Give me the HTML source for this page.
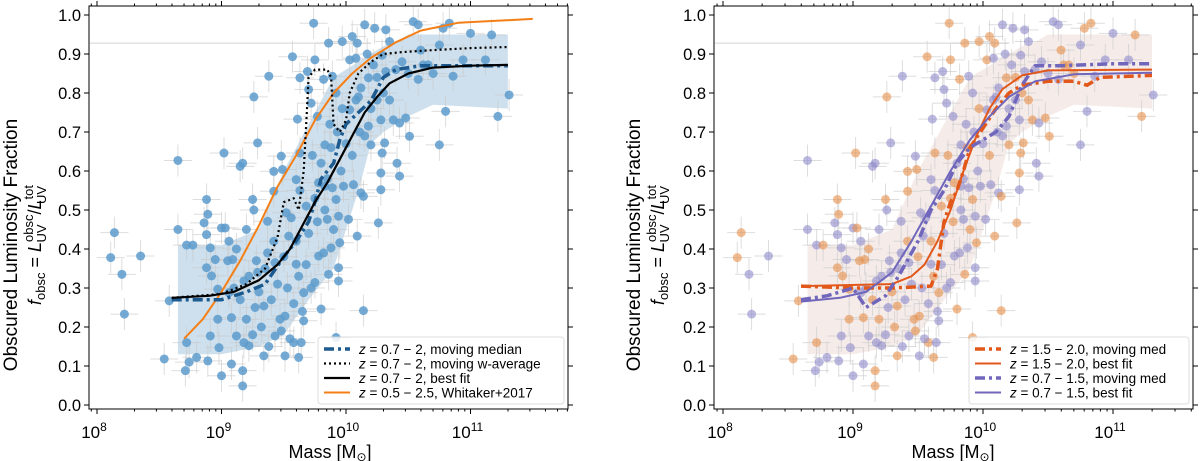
<!DOCTYPE html>
<html><head><meta charset="utf-8"><style>
body{margin:0;background:#fff;}
svg{display:block;font-family:"Liberation Sans","DejaVu Sans",sans-serif;}
</style></head><body>
<svg id="chart" width="1200" height="461" viewBox="0 0 1200 461" xmlns="http://www.w3.org/2000/svg"></svg>
<script>
// ---- data ----
const ptMass=[8.11,8.14,8.2,8.22,8.35,8.54,8.58,8.65,8.65,8.72,8.77,8.72,8.74,8.71,8.8,8.88,8.89,8.86,8.88,8.91,8.88,8.92,8.89,8.91,8.95,8.97,8.97,8.98,9.0,9.0,9.03,9.02,9.06,9.06,9.08,9.08,9.09,9.12,9.15,9.17,9.17,9.17,9.18,9.2,9.22,9.25,9.26,9.26,9.29,9.29,9.34,9.34,9.37,9.37,9.38,9.42,9.42,9.43,9.43,9.48,9.49,9.51,9.51,9.52,9.54,9.57,9.58,9.6,9.6,9.61,9.62,9.63,9.63,9.64,9.66,9.66,9.68,9.69,9.7,9.72,9.74,9.75,9.75,9.77,9.78,9.8,9.82,9.83,9.83,9.85,9.86,9.86,9.88,9.89,9.89,9.92,9.92,9.94,9.94,9.94,9.95,9.97,9.98,10.02,10.03,10.03,10.05,10.06,10.08,10.08,10.09,10.09,10.11,10.12,10.12,10.14,10.14,10.15,10.17,10.18,10.18,10.2,10.22,10.23,10.25,10.26,10.28,10.28,10.28,10.29,10.29,10.31,10.32,10.32,10.35,10.35,10.38,10.41,10.43,10.43,10.48,10.51,10.54,10.58,10.58,10.62,10.66,10.75,10.75,10.8,10.78,10.83,10.86,11.0,11.12,11.17,11.22,11.31,10.94,
9.1,9.15,9.2,9.22,9.25,9.27,9.3,9.32,9.35,9.4,9.45,9.47,9.5,9.53,9.55,9.58,9.6,9.62,9.65,9.7,9.72,9.75,9.77,9.8,9.82,9.85,9.88,9.9,9.93,9.96,10.0,9.05,9.12,9.18,9.28,9.38,9.42,9.48,9.56,9.63,9.68,9.73,9.78,9.83,9.87,9.92,9.97,10.05,10.1,10.15,10.2,10.25,10.3,10.4,10.45,10.5,10.6,10.7];
const ptFrac=[.378,.442,.335,.233,.382,.118,.267,.627,.45,.41,.41,.16,.11,.088,.122,.527,.489,.467,.437,.403,.352,.331,.113,.177,.373,.297,.22,.147,.075,.454,.454,.646,.42,.288,.105,.224,.373,.177,.612,.62,.088,.049,.318,.45,.152,.527,.79,.5,.672,.34,.126,.254,.471,.39,.843,.548,.599,.365,.177,.638,.604,.228,.126,.493,.433,.893,.16,.361,.578,.733,.122,.646,.839,.16,.216,.288,.51,.855,.809,.774,.979,.885,.314,.74,.382,.246,.835,.561,.667,.476,.928,.335,.403,.843,.557,.527,.173,.352,.484,.318,.416,.932,.561,.476,.757,.885,.945,.565,.889,.782,.928,.433,.7,.544,.813,.242,.535,.975,.9,.715,.839,.667,.872,.966,.782,.467,.595,.552,.731,.897,.646,.672,.855,.962,.932,.782,.731,.62,.587,.723,.736,.689,.983,.975,.835,.872,.872,.667,.923,.753,.966,.979,.843,.953,.885,.949,.74,.795,.885,
.3,.27,.22,.33,.18,.25,.29,.2,.35,.27,.31,.22,.38,.3,.17,.26,.42,.33,.24,.44,.3,.53,.47,.62,.39,.58,.66,.45,.7,.6,.67,.37,.4,.16,.37,.15,.42,.19,.48,.55,.36,.64,.57,.5,.72,.8,.76,.64,.79,.69,.76,.84,.8,.86,.88,.85,.91,.85];
// left panel lines
const fitM=[8.6,8.9,9.1,9.3,9.45,9.55,9.65,9.75,9.85,9.95,10.05,10.15,10.25,10.35,10.5,10.7,11.0,11.3];
const fitF=[.275,.28,.29,.32,.36,.40,.46,.52,.57,.63,.69,.75,.79,.825,.85,.865,.87,.872];
const whitM=[8.7,8.85,9.0,9.15,9.3,9.45,9.6,9.75,9.9,10.05,10.2,10.4,10.6,10.9,11.5];
const whitF=[.17,.22,.29,.37,.46,.56,.64,.73,.8,.85,.89,.93,.96,.98,.99];
const wavgM=[8.6,9.0,9.2,9.35,9.45,9.5,9.58,9.62,9.66,9.68,9.7,9.75,9.85,9.88,9.9,9.95,10.0,10.03,10.1,10.2,10.3,10.45,10.7,11.0,11.3];
const wavgF=[.275,.285,.31,.35,.43,.52,.53,.5,.6,.72,.84,.86,.86,.84,.72,.7,.73,.8,.85,.88,.9,.905,.91,.915,.918];
const medM=[8.6,9.0,9.2,9.35,9.5,9.6,9.7,9.75,9.8,9.9,9.95,10.0,10.1,10.2,10.3,10.4,10.6,11.0,11.3];
const medF=[.27,.27,.29,.31,.38,.42,.47,.52,.58,.62,.68,.72,.75,.78,.84,.86,.87,.87,.87];
const bandM=[8.65,9.0,9.3,9.5,9.7,9.9,10.1,10.2,10.3,10.4,10.5,10.7,11.3];
const bandHi=[.41,.41,.45,.6,.72,.84,.88,.9,.92,.93,.95,.95,.95];
const bandLo=[.13,.13,.15,.18,.27,.35,.55,.67,.7,.72,.74,.77,.76];
// right panel lines
const oFitM=[8.6,9.3,9.45,9.55,9.65,9.75,9.85,9.95,10.05,10.15,10.3,10.5,11.3];
const oFitF=[.305,.31,.33,.36,.42,.5,.6,.69,.76,.81,.845,.858,.86];
const pFitM=[8.6,8.9,9.1,9.3,9.45,9.6,9.75,9.9,10.05,10.2,10.4,10.7,11.3];
const pFitF=[.265,.275,.29,.34,.42,.51,.6,.68,.74,.79,.83,.848,.852];
const oMedM=[8.6,9.0,9.3,9.6,9.65,9.7,9.75,9.8,9.85,9.9,10.0,10.1,10.2,10.3,10.5,10.7,10.8,10.9,11.3];
const oMedF=[.305,.3,.3,.305,.35,.47,.52,.55,.6,.66,.71,.76,.8,.82,.83,.83,.82,.84,.845];
const pMedM=[8.6,8.8,9.0,9.1,9.25,9.35,9.5,9.6,9.7,9.8,9.9,10.0,10.1,10.2,10.3,10.4,10.6,11.0,11.3];
const pMedF=[.27,.28,.3,.25,.28,.33,.42,.5,.55,.62,.66,.68,.7,.74,.82,.87,.87,.875,.875];
const yTicks=[0,.1,.2,.3,.4,.5,.6,.7,.8,.9,1.0];
const yTickLabels=["0.0","0.1","0.2","0.3","0.4","0.5","0.6","0.7","0.8","0.9","1.0"];
const xDecades=[8,9,10,11];

// ---- drawing ----
const NS="http://www.w3.org/2000/svg";
const svg=document.getElementById('chart');
function mk(tag,attrs,parent){const e=document.createElementNS(NS,tag);for(const k in attrs)e.setAttribute(k,attrs[k]);(parent||svg).appendChild(e);return e;}
const Y0=405,YS=390;
function py(f){return Y0-YS*f;}

function panel(x0,dec,L,R,name){
  const g=mk('g',{});
  
  
  const px=l=>x0+(l-8)*dec;
  return {g,px,L,R};
}
function linePath(P,ms,fs){return ms.map((m,i)=>(i?'L':'M')+P.px(m).toFixed(1)+','+py(fs[i]).toFixed(1)).join('');}
function band(P,ms,hi,lo,color,op,name){
  let d=ms.map((m,i)=>(i?'L':'M')+P.px(m)+','+py(hi[i])).join('');
  for(let i=ms.length-1;i>=0;i--)d+='L'+P.px(ms[i])+','+py(lo[i]);
  const e=mk('path',{d:d+'Z',fill:color,opacity:op},P.g);
  
  
}
function series(P,ms,fs,color,w,dash,name){
  const e=mk('path',{d:linePath(P,ms,fs),fill:'none',stroke:color,'stroke-width':w,'stroke-dasharray':dash||'none','stroke-linejoin':'round'},P.g);
  
  
}
function points(P,colorFn,op,name){
  const gg=mk('g',{},P.g);
  
  
  mk('line',{x1:P.L+1,x2:P.px(10.2),y1:py(.928),y2:py(.928),stroke:'#d4d4d4','stroke-width':1},gg);
  for(let i=0;i<ptMass.length;i++){
    const x=P.px(ptMass[i]),y=py(ptFrac[i]);
    mk('line',{x1:x-14,x2:x+14,y1:y,y2:y,stroke:'#c8c8c8','stroke-width':1,opacity:.6},gg);
    mk('line',{x1:x,x2:x,y1:y-16,y2:y+16,stroke:'#c8c8c8','stroke-width':1,opacity:.6},gg);
  }
  for(let i=0;i<ptMass.length;i++){
    const c=mk('circle',{cx:P.px(ptMass[i]),cy:py(ptFrac[i]),r:4.5,fill:colorFn(i),opacity:op},gg);
    
    
  }
}
function axes(P,xlabelX,t1x,t2x){
  const T=6,B=409;
  const f=mk('rect',{x:P.L,y:T,width:P.R-P.L,height:B-T,fill:'none',stroke:'#000','stroke-width':1},P.g);
  
  
  for(let d=7;d<=11;d++){
    for(let k=1;k<10;k++){
      const x=P.px(d+Math.log10(k));
      if(x<P.L||x>P.R)continue;
      const len=k===1?5:2.5;
      mk('line',{x1:x,x2:x,y1:B,y2:B+len,stroke:'#000','stroke-width':1},P.g);
      mk('line',{x1:x,x2:x,y1:T,y2:T-len,stroke:'#000','stroke-width':1},P.g);
    }
  }
  xDecades.forEach(d=>{
    const t=mk('text',{x:P.px(d)-3,y:438,'font-size':17,'text-anchor':'middle'},P.g);
    
    
    t.innerHTML='10<tspan dy="-7" font-size="12">'+d+'</tspan>';
  });
  yTicks.forEach((v,i)=>{
    const y=py(v);
    mk('line',{x1:P.L-5,x2:P.L,y1:y,y2:y,stroke:'#000'},P.g);
    mk('line',{x1:P.R,x2:P.R+5,y1:y,y2:y,stroke:'#000'},P.g);
    const t=mk('text',{x:P.L-8,y:y+6,'font-size':16.5,'text-anchor':'end'},P.g);
    
    
    t.textContent=yTickLabels[i];
  });
  const xl=mk('text',{x:xlabelX,y:458,'font-size':18,'text-anchor':'middle'},P.g);
  
  
  xl.innerHTML='Mass [M<tspan font-size="12" dy="3">⊙</tspan><tspan dy="-3">]</tspan>';
  const cy=245;
  const yl=mk('text',{x:t1x,y:cy,'font-size':19,'text-anchor':'middle',transform:`rotate(-90 ${t1x} ${cy})`},P.g);
  
  
  yl.textContent='Obscured Luminosity Fraction';
  const y2=mk('text',{x:t2x,y:cy,'font-size':18,'text-anchor':'middle',transform:`rotate(-90 ${t2x} ${cy})`},P.g);
  
  
  y2.innerHTML='<tspan font-style="italic">f</tspan><tspan font-size="13" dy="4">obsc</tspan><tspan dy="-4"> = </tspan><tspan font-style="italic">L</tspan><tspan font-size="13" dy="-8">obsc</tspan><tspan font-size="13" dx="-28" dy="13">UV</tspan><tspan dx="10" dy="-5">/</tspan><tspan font-style="italic">L</tspan><tspan font-size="13" dy="-8">tot</tspan><tspan font-size="13" dx="-19" dy="13">UV</tspan>';
}
function legend(P,x,y,w,entries,name){
  const g=mk('g',{},P.g);
  
  
  mk('rect',{x,y,width:w,height:67,rx:3,fill:'#fff',opacity:.85,stroke:'#d8d8d8'},g);
  entries.forEach((e,i)=>{
    const yy=y+12+i*14.5;
    const ge=mk('g',{},g);
    
    
    mk('line',{x1:x+6,x2:x+32,y1:yy,y2:yy,stroke:e.c,'stroke-width':e.w,'stroke-dasharray':e.d||'none'},ge);
    const t=mk('text',{x:x+41,y:yy+5,'font-size':13.5},ge);
    t.innerHTML='<tspan font-style="italic">z</tspan>'+e.t;
  });
}

// Left panel
const A=panel(97,124.5,89,568,'left-panel');
band(A,bandM,bandHi,bandLo,'#a6c6de',.55,'band-moving-median');
points(A,()=>'#5c9bcc',.85,'scatter-points');
series(A,whitM,whitF,'#f57f17',2,null,'line-whitaker2017');
series(A,medM,medF,'#1c5a8f',3.5,'10,4,3,4','line-moving-median');
series(A,wavgM,wavgF,'#000',2.2,'2,3','line-moving-w-average');
series(A,fitM,fitF,'#000',2.2,null,'line-best-fit');
axes(A,330,17,41);
legend(A,318,337,246,[
 {c:'#1c5a8f',w:3.5,d:'10,4,3,4',t:' = 0.7 − 2, moving median'},
 {c:'#000',w:2.2,d:'2,3',t:' = 0.7 − 2, moving w-average'},
 {c:'#000',w:2.2,t:' = 0.7 − 2, best fit'},
 {c:'#f57f17',w:2,t:' = 0.5 − 2.5, Whitaker+2017'}],'legend-left');

// Right panel
const Bp=panel(723,130,714,1193,'right-panel');
band(Bp,bandM,bandHi,bandLo,'#fae6d2',.5,'band-z15-20');
band(Bp,bandM,bandHi,bandLo,'#dedcf0',.25,'band-z07-15');
points(Bp,i=>(i%5<2)?'#e8904a':'#8f8bcb',.6,'scatter-points');
series(Bp,oMedM,oMedF,'#e2581a',3.5,'10,4,3,4','line-z15-20-moving-med');
series(Bp,oFitM,oFitF,'#e2581a',2,null,'line-z15-20-best-fit');
series(Bp,pMedM,pMedF,'#7066bb',3.5,'10,4,3,4','line-z07-15-moving-med');
series(Bp,pFitM,pFitF,'#7066bb',2,null,'line-z07-15-best-fit');
axes(Bp,953,640,664);
legend(Bp,969,337,220,[
 {c:'#e2581a',w:3.5,d:'10,4,3,4',t:' = 1.5 − 2.0, moving med'},
 {c:'#e2581a',w:2,t:' = 1.5 − 2.0, best fit'},
 {c:'#7066bb',w:3.5,d:'10,4,3,4',t:' = 0.7 − 1.5, moving med'},
 {c:'#7066bb',w:2,t:' = 0.7 − 1.5, best fit'}],'legend-right');
</script>
</body></html>
